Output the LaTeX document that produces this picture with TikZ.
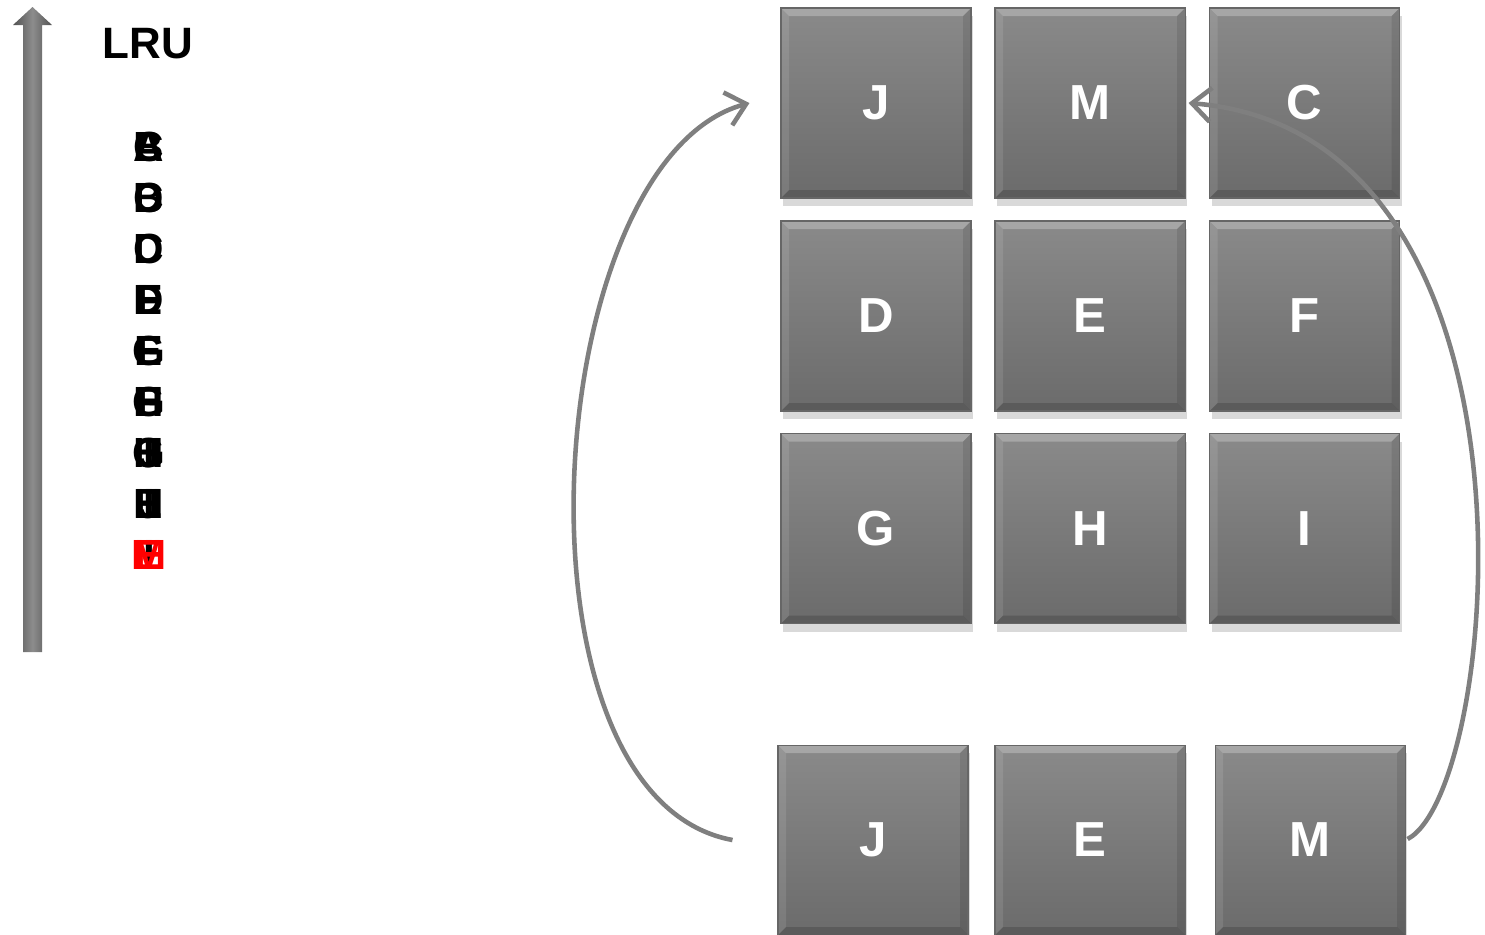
\documentclass[tikz,border=0pt]{standalone}
\usepackage{fontspec}
\usetikzlibrary{arrows.meta,shadows}
\newfontfamily\arialfont{Liberation Sans}
\newcommand{\boxfont}{\arialfont\bfseries\fontsize{14}{16}\selectfont}
\newcommand{\listfont}{\arialfont\bfseries\fontsize{12}{14}\selectfont}
\definecolor{tilegray}{HTML}{7B7B7B}
\definecolor{linkgray}{HTML}{7F7F7F}
\tikzset{
  tile/.style={minimum size=1.9cm, inner sep=0pt, draw=black!60, line width=0.3pt,
    top color=black!46, bottom color=black!58, text=white, font=\boxfont,
    drop shadow={opacity=0.3, shadow xshift=0.2mm, shadow yshift=-0.8mm},
    path picture={
      \fill[white, opacity=0.25] (path picture bounding box.north west) -- (path picture bounding box.north east)
        -- ++(-0.08,-0.08) -- ([shift={(0.08,-0.08)}]path picture bounding box.north west) -- cycle;
      \fill[white, opacity=0.1] (path picture bounding box.north west) -- (path picture bounding box.south west)
        -- ++(0.08,0.08) -- ([shift={(0.08,-0.08)}]path picture bounding box.north west) -- cycle;
      \fill[black, opacity=0.15] (path picture bounding box.south west) -- (path picture bounding box.south east)
        -- ++(-0.08,0.08) -- ([shift={(0.08,0.08)}]path picture bounding box.south west) -- cycle;
      \fill[black, opacity=0.1] (path picture bounding box.north east) -- (path picture bounding box.south east)
        -- ++(-0.08,0.08) -- ([shift={(-0.08,-0.08)}]path picture bounding box.north east) -- cycle;
    }},
  link/.style={linkgray, line width=1.3pt, -{Straight Barb[length=1.9mm, width=3.4mm, line width=1.3pt]}},
  entry/.style={font=\listfont, inner sep=0pt},
}

\begin{document}
\begin{tikzpicture}
  \useasboundingbox (0,0) rectangle (14.85,-9.34);

  % recency arrow
  \shade[left color=black!68, right color=black!68, middle color=black!45]
    (0.23,-6.52) -- (0.23,-0.25) -- (0.13,-0.25) -- (0.325,-0.07) -- (0.52,-0.25)
    -- (0.42,-0.25) -- (0.42,-6.52) -- cycle;
  \node[font=\arialfont\bfseries\fontsize{12.5}{14}\selectfont] (lru) at (1.48,-0.44) {LRU};

  % stacked list states
  \foreach \r/\ls in {1/{A,B,C}, 2/{B,C,D}, 3/{C,D}, 4/{D,E,F}, 5/{E,F,G},
                      6/{F,G,H}, 7/{G,H,I,J}, 8/{H,I,J,E}}
    \foreach \l in \ls
      \node[entry] (e\r\l) at (1.49,{-1.47-0.51*(\r-1)}) {\l};
  \node[entry] (e9I) at (1.49,-5.55) {I};
  \foreach \l in {E,M}
    \node[entry, text=red] (e9\l) at (1.49,-5.55) {\l};

  % cache grid
  \node[tile] (j1) at (8.76,-1.03) {J};
  \node[tile] (m1) at (10.90,-1.03) {M};
  \node[tile] (c1) at (13.045,-1.03) {C};
  \node[tile] (d1) at (8.76,-3.16) {D};
  \node[tile] (e1) at (10.90,-3.16) {E};
  \node[tile] (f1) at (13.045,-3.16) {F};
  \node[tile] (g1) at (8.76,-5.285) {G};
  \node[tile] (h1) at (10.90,-5.285) {H};
  \node[tile] (i1) at (13.045,-5.285) {I};

  % requests
  \node[tile] (j2) at (8.73,-8.40) {J};
  \node[tile] (e2) at (10.90,-8.40) {E};
  \node[tile] (m2) at (13.10,-8.40) {M};

  \coordinate (jfrom) at ([xshift=-4.5mm]j2.west);
  \coordinate (jto) at ([xshift=-3.1mm]j1.west);
  \draw[link] (jfrom) .. controls +(-2.33,0.43) and +(-2.10,-0.57) .. (jto);
  \coordinate (mfrom) at ([xshift=0.2mm,yshift=0.1mm]m2.east);
  \coordinate (mto) at ([xshift=0.3mm]m1.east);
  \draw[link] (mfrom) .. controls +(0.93,0.48) and +(3.72,-0.30) .. (mto);
\end{tikzpicture}
\end{document}
